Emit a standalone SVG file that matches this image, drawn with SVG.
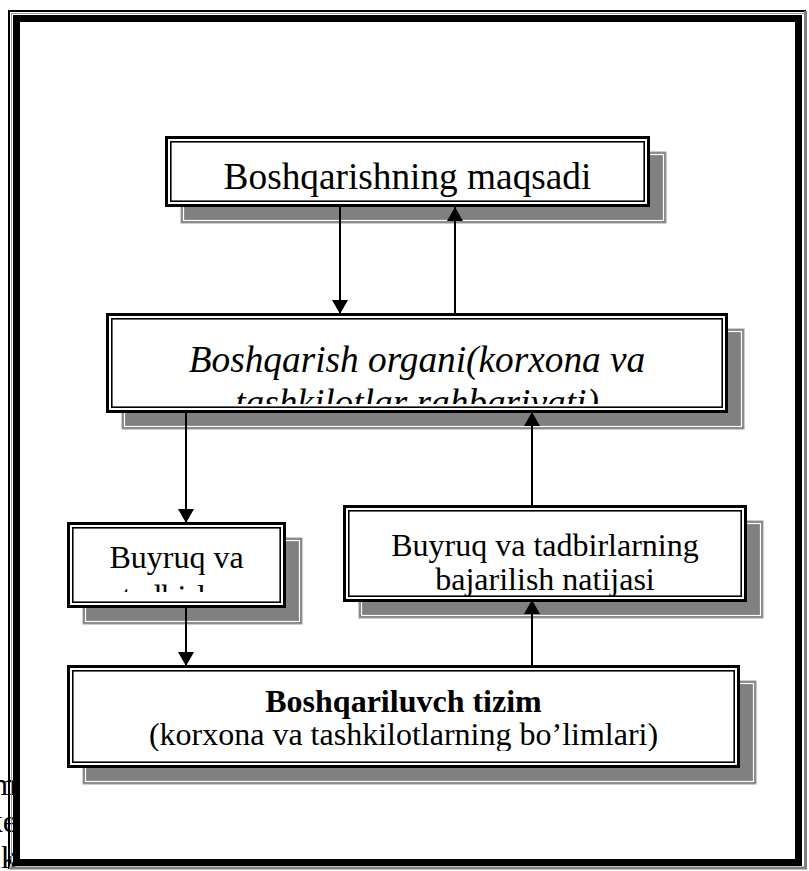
<svg xmlns="http://www.w3.org/2000/svg" width="809" height="871" viewBox="0 0 809 871">
<style>
.t{font-family:"Liberation Serif","Times New Roman",serif;fill:#000;text-anchor:middle}
.l{font-size:37.3px}
.s{font-size:32px}
.sh{fill:#808080;stroke:#9a9a9a;stroke-width:1}
.shi{fill:none;stroke:#fff;stroke-width:1.2}
.bo{fill:#fff;stroke:#000;stroke-width:3}
.bi{fill:none;stroke:#000;stroke-width:1.6}
.c{stroke:#000;stroke-width:2;fill:none}
.side{font-family:"Liberation Serif","Times New Roman",serif;font-size:32px;text-anchor:end}
</style>
<defs>
<marker id="ah" viewBox="0 0 14 16" refX="14" refY="8" markerWidth="14" markerHeight="16" markerUnits="userSpaceOnUse" orient="auto">
<path d="M0,0 L14,8 L0,16 Z" fill="#000"/>
</marker>
<clipPath id="c1"><rect x="172" y="143" width="471" height="54"/></clipPath>
<clipPath id="c2"><rect x="113" y="320" width="608" height="84"/></clipPath>
<clipPath id="c3"><rect x="74" y="529" width="205" height="63"/></clipPath>
<clipPath id="c4"><rect x="350" y="512" width="390" height="84"/></clipPath>
<clipPath id="c5"><rect x="74" y="672" width="659" height="79"/></clipPath>
</defs>
<rect width="809" height="871" fill="#fff"/>
<g id="side-text">
<text class="side" x="17" y="795">m</text>
<text class="side" x="17" y="832">ke</text>
<text class="side" x="17" y="868">lk</text>
</g>
<g id="frame">
<rect x="13" y="15" width="789" height="851" fill="#fff"/>
<path d="M9,869 V11 H806" fill="none" stroke="#000" stroke-width="2"/>
<path d="M11.5,866 V13.5 H804" fill="none" stroke="#9a9a9a" stroke-width="1"/>
<path d="M805.5,11 V868 H9" fill="none" stroke="#808080" stroke-width="3"/>
<rect x="16.5" y="18.5" width="782" height="844" fill="none" stroke="#000" stroke-width="7"/>
</g>
<g id="n1">
<rect class="sh" x="181" y="152" width="485" height="71"/>
<rect class="shi" x="183.5" y="154.5" width="480" height="66"/>
<rect class="bo" x="166.5" y="137.5" width="482" height="68"/>
<rect class="bi" x="170.8" y="141.8" width="473.4" height="59.4"/>
<text class="t l" clip-path="url(#c1)" x="407.5" y="189">Boshqarishning maqsadi</text>
</g>
<g id="n2">
<rect class="sh" x="122" y="329" width="622" height="100"/>
<rect class="shi" x="124.5" y="331.5" width="617" height="95"/>
<rect class="bo" x="107.5" y="314.5" width="619" height="97"/>
<rect class="bi" x="111.8" y="318.8" width="610.4" height="88.4"/>
<text class="t l" clip-path="url(#c2)" font-style="italic"><tspan x="417" y="372">Boshqarish organi(korxona va</tspan><tspan x="417" y="415">tashkilotlar rahbariyati)</tspan></text>
</g>
<g id="n3">
<rect class="sh" x="83" y="538" width="219" height="86"/>
<rect class="shi" x="85.5" y="540.5" width="214" height="81"/>
<rect class="bo" x="68.5" y="523.5" width="216" height="83"/>
<rect class="bi" x="72.8" y="527.8" width="207.4" height="74.4"/>
<text class="t s" clip-path="url(#c3)"><tspan x="176.5" y="568">Buyruq va</tspan><tspan x="176.5" y="607">tadbirlar</tspan></text>
</g>
<g id="n4">
<rect class="sh" x="359" y="521" width="404" height="97"/>
<rect class="shi" x="361.5" y="523.5" width="399" height="92"/>
<rect class="bo" x="344.5" y="506.5" width="401" height="94"/>
<rect class="bi" x="348.8" y="510.8" width="392.4" height="85.4"/>
<text class="t s" clip-path="url(#c4)"><tspan x="545" y="556">Buyruq va tadbirlarning</tspan><tspan x="545" y="590">bajarilish natijasi</tspan></text>
</g>
<g id="n5">
<rect class="sh" x="83" y="681" width="673" height="103"/>
<rect class="shi" x="85.5" y="683.5" width="668" height="98"/>
<rect class="bo" x="68.5" y="666.5" width="670" height="100"/>
<rect class="bi" x="72.8" y="670.8" width="661.4" height="91.4"/>
<text class="t s" clip-path="url(#c5)"><tspan x="403.5" y="712" font-weight="bold">Boshqariluvch tizim</tspan><tspan x="403.5" y="745">(korxona va tashkilotlarning bo’limlari)</tspan></text>
</g>
<g id="connectors">
<line class="c" x1="340" y1="207" x2="340" y2="314" marker-end="url(#ah)"/>
<line class="c" x1="455" y1="314" x2="455" y2="207" marker-end="url(#ah)"/>
<line class="c" x1="186" y1="412" x2="186" y2="523" marker-end="url(#ah)"/>
<line class="c" x1="532" y1="506" x2="532" y2="412" marker-end="url(#ah)"/>
<line class="c" x1="186" y1="606" x2="186" y2="666" marker-end="url(#ah)"/>
<line class="c" x1="532" y1="666" x2="532" y2="600" marker-end="url(#ah)"/>
</g>
</svg>
